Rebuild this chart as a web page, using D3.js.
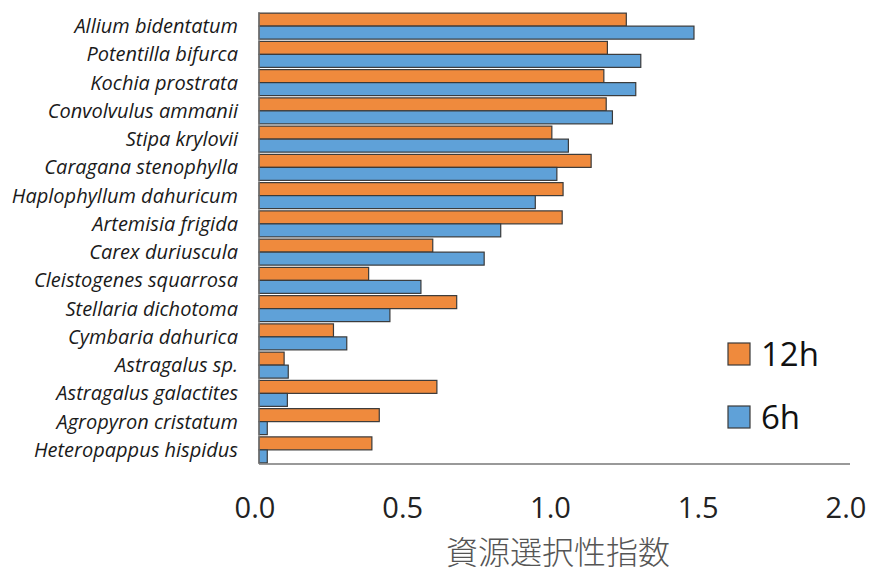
<!DOCTYPE html>
<html>
<head>
<meta charset="utf-8">
<script src="https://cdn.jsdelivr.net/npm/d3@7"></script>
<style>
  body { margin: 0; background: #fff; }
</style>
</head>
<body>
<div id="chart"></div>
<script>
/* species, top to bottom */
var species = [
    "Allium bidentatum", "Potentilla bifurca", "Kochia prostrata", "Convolvulus ammanii",
    "Stipa krylovii", "Caragana stenophylla", "Haplophyllum dahuricum", "Artemisia frigida",
    "Carex duriuscula", "Cleistogenes squarrosa", "Stellaria dichotoma", "Cymbaria dahurica",
    "Astragalus sp.", "Astragalus galactites", "Agropyron cristatum", "Heteropappus hispidus"
];
var values12h = [1.243, 1.179, 1.167, 1.175, 0.991, 1.124, 1.029, 1.026,
                 0.588, 0.371, 0.669, 0.252, 0.085, 0.602, 0.407, 0.382];
var values6h  = [1.472, 1.292, 1.275, 1.196, 1.047, 1.008, 0.935, 0.818,
                 0.762, 0.548, 0.443, 0.297, 0.099, 0.096, 0.028, 0.028];
var seriesNames = ["12h", "6h"];
var xTicks = [0, 0.5, 1.0, 1.5, 2.0];
var axisTitle = "資源選択性指数";

var width = 871, height = 574;
var plotLeft = 259, plotRight = 850, plotTop = 12, plotBottom = 464;
var colors = { "12h": "#ef8a3d", "6h": "#5fa1d8" };

var svg = d3.select("#chart").append("svg")
    .attr("width", width)
    .attr("height", height);

var x = d3.scaleLinear().domain([0, 2]).range([plotLeft, plotRight]);
var y = d3.scaleBand().domain(species).range([plotTop, plotBottom]).paddingInner(0.08).paddingOuter(0.04);
var ySub = d3.scaleBand().domain(seriesNames).range([0, y.bandwidth()]);

var rows = species.map(function (s, i) {
    return { name: s, "12h": values12h[i], "6h": values6h[i] };
});

/* bars */
var groups = svg.append("g").selectAll("g")
    .data(rows)
    .join("g")
    .attr("transform", function (d) { return "translate(0," + y(d.name) + ")"; });

groups.selectAll("rect")
    .data(function (d) { return seriesNames.map(function (k) { return { key: k, value: d[k] }; }); })
    .join("rect")
    .attr("x", x(0))
    .attr("y", function (d) { return ySub(d.key); })
    .attr("width", function (d) { return x(d.value) - x(0); })
    .attr("height", ySub.bandwidth())
    .attr("fill", function (d) { return colors[d.key]; })
    .attr("stroke", "#3a3a3a")
    .attr("stroke-width", 1.2);

/* species labels */
svg.append("g").selectAll("text")
    .data(species)
    .join("text")
    .attr("x", 238)
    .attr("y", function (d) { return y(d) + y.bandwidth() / 2; })
    .attr("dy", "0.35em")
    .attr("text-anchor", "end")
    .attr("font-family", "Open Sans, sans-serif")
    .attr("font-style", "italic")
    .attr("font-size", 20)
    .attr("fill", "#1a1a1a")
    .text(function (d) { return d; });

/* axes lines */
svg.append("line")
    .attr("x1", x(0)).attr("x2", x(0))
    .attr("y1", plotTop).attr("y2", plotBottom)
    .attr("stroke", "#777").attr("stroke-width", 1.3);
svg.append("line")
    .attr("x1", x(0)).attr("x2", plotRight)
    .attr("y1", plotBottom).attr("y2", plotBottom)
    .attr("stroke", "#777").attr("stroke-width", 1.3);

/* tick labels (sit a few px left of the value, as in the source) */
svg.append("g").selectAll("text")
    .data(xTicks)
    .join("text")
    .attr("x", function (d) { return x(d) - 4; })
    .attr("y", 518)
    .attr("text-anchor", "middle")
    .attr("font-family", "Open Sans, sans-serif")
    .attr("font-size", 29)
    .attr("fill", "#222")
    .text(function (d) { return d3.format(".1f")(d); });

/* axis title */
svg.append("text")
    .attr("x", 558)
    .attr("y", 564)
    .attr("text-anchor", "middle")
    .attr("font-family", "Noto Sans CJK JP, sans-serif")
    .attr("font-size", 32)
    .attr("font-weight", 300)
    .attr("fill", "#555")
    .text(axisTitle);

/* legend */
var legend = svg.append("g").selectAll("g")
    .data(seriesNames)
    .join("g")
    .attr("transform", function (d, i) { return "translate(728," + (343 + i * 63) + ")"; });

legend.append("rect")
    .attr("width", 22).attr("height", 22)
    .attr("fill", function (d) { return colors[d]; })
    .attr("stroke", "#3a3a3a").attr("stroke-width", 1.2);

legend.append("text")
    .attr("x", 33)
    .attr("y", 11)
    .attr("dy", "0.36em")
    .attr("font-family", "Open Sans, sans-serif")
    .attr("font-size", 33)
    .attr("fill", "#111")
    .text(function (d) { return d; });
</script>
</body>
</html>
